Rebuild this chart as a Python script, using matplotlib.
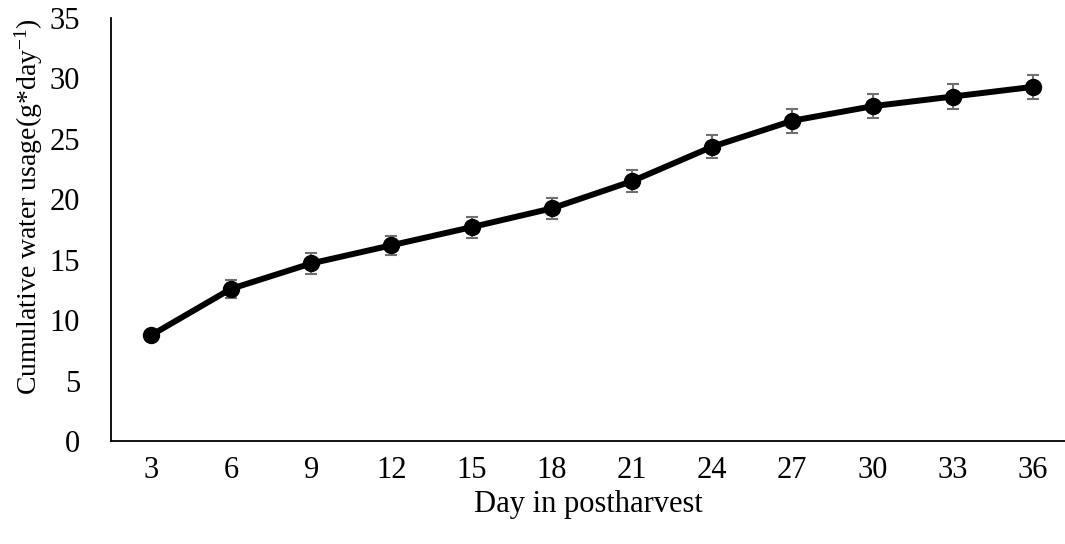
import numpy as np
import matplotlib.pyplot as plt

plt.rcParams['font.family'] = ['Liberation Serif', 'DejaVu Serif']
plt.rcParams['mathtext.fontset'] = 'custom'
plt.rcParams['mathtext.rm'] = 'Liberation Serif'
plt.rcParams['mathtext.it'] = 'Liberation Serif'

days = ['3', '6', '9', '12', '15', '18', '21', '24', '27', '30', '33', '36']
usage = [8.75, 12.6, 14.7, 16.2, 17.7, 19.25, 21.5, 24.35, 26.5, 27.7, 28.5, 29.3]
err = [0.3, 0.75, 0.85, 0.8, 0.88, 0.87, 0.9, 0.95, 1.0, 1.0, 1.0, 1.0]

fig = plt.figure(figsize=(10.65, 5.44), dpi=100)
ax = fig.add_axes([0.104, 0.189, 0.896, 0.778])

x = np.arange(len(days))
ax.errorbar(x, usage, yerr=err, fmt='none', ecolor='#707070', elinewidth=1.5,
            capsize=4.5, capthick=1.5, zorder=2)
ax.plot(x, usage, color='black', linewidth=4.3, marker='o', markersize=11.5, zorder=3)

ax.set_xlim(-0.5, 11.4)
ax.set_ylim(0, 35)
ax.set_yticks(np.arange(0, 36, 5))
ax.set_xticks(x)
ax.set_xticklabels(days)
ax.tick_params(axis='both', length=0, labelsize=22)
ax.tick_params(axis='y', pad=22)
ax.tick_params(axis='x', pad=11)

for s in ['top', 'right']:
    ax.spines[s].set_visible(False)
ax.spines['left'].set_linewidth(1.3)
ax.spines['bottom'].set_linewidth(1.3)

ax.set_xlabel('Day in postharvest', fontsize=22, labelpad=3)
ax.set_ylabel('Cumulative water usage(g*day$^{\\mathrm{-1}}$)', fontsize=20)
ax.yaxis.set_label_coords(-0.069, 0.555)

fig.savefig('out.png', dpi=100)
